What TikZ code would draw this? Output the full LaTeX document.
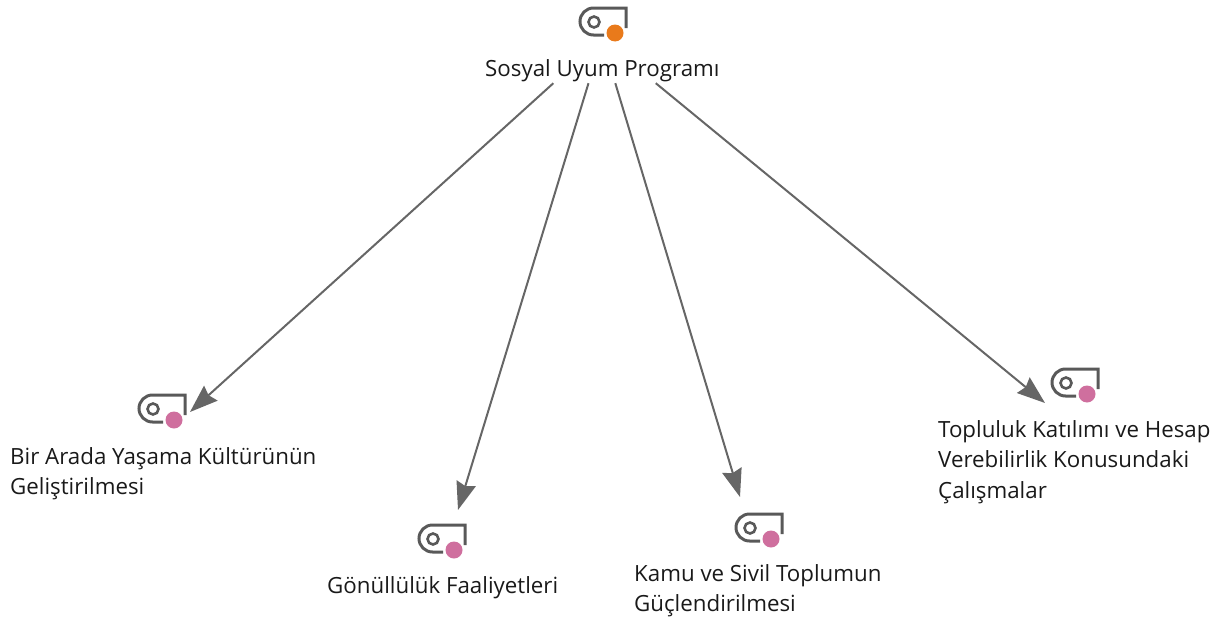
\documentclass[tikz,border=0pt]{standalone}
\usepackage{fontspec}
\setmainfont{Open Sans}
\usetikzlibrary{arrows.meta, positioning}
\definecolor{linegray}{RGB}{102, 102, 102}
\definecolor{icongray}{RGB}{89, 89, 89}
\definecolor{rootorange}{RGB}{233, 122, 27}
\definecolor{leafpink}{RGB}{207, 111, 158}

\begin{document}
\begin{tikzpicture}[
    x=1pt, y=-1pt,
    label/.style={inner sep=0pt, anchor=north west, align=left, font=\fontsize{22.3}{30.5}\selectfont, text=black!90},
    hub/.style={rectangle, inner sep=0pt, minimum width=240pt, minimum height=88pt},
    arrow/.style={-{Stealth[length=28pt, width=20pt, inset=3pt]}, line width=2pt, color=linegray},
    tag/.pic={
        \draw[icongray, line width=3pt] (24,27) [rounded corners=13.5pt] -- (0,27) -- (0,0) [sharp corners] -- (46,0) -- (46,20);
        \draw[icongray, line width=2.6pt] (14,14) circle[radius=5.5pt];
        \fill[white] (35,25) circle[radius=10pt];
        \fill[#1] (35,25) circle[radius=8.5pt];
    }
]
    \useasboundingbox (0,0) rectangle (1229,621);

    \node[hub] (prog) at (602,39) {};
    \pic at (580,8) {tag=rootorange};
    \node[label] (progtext) at (485,59) {Sosyal Uyum Programı};

    \pic at (139,395) {tag=leafpink};
    \node[label] (kultur) at (10,447) {Bir Arada Yaşama Kültürünün\\Geliştirilmesi};

    \pic at (419,525) {tag=leafpink};
    \node[label] (gonullu) at (327,576) {Gönüllülük Faaliyetleri};

    \pic at (736,514) {tag=leafpink};
    \node[label] (kamu) at (634,564) {Kamu ve Sivil Toplumun\\Güçlendirilmesi};

    \pic at (1052,369) {tag=leafpink};
    \node[label] (katilim) at (938,420) {Topluluk Katılımı ve Hesap\\Verebilirlik Konusundaki\\Çalışmalar};

    \coordinate (endkultur) at (190,412);
    \coordinate (endgonullu) at (458,510);
    \coordinate (endkamu) at (740,497);
    \coordinate (endkatilim) at (1045,403);

    \draw[arrow] (prog) -- (endkultur);
    \draw[arrow] (prog) -- (endgonullu);
    \draw[arrow] (prog) -- (endkamu);
    \draw[arrow] (prog) -- (endkatilim);
\end{tikzpicture}
\end{document}
